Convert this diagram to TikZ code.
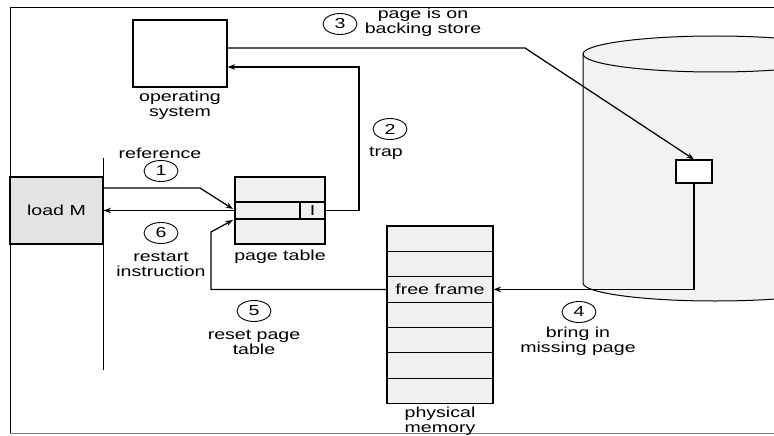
\documentclass[tikz,border=0pt]{standalone}
\usepackage{fontspec}
\setmainfont{Liberation Sans}[FakeStretch=1.35]
\usetikzlibrary{shapes.geometric,arrows.meta}
\begin{document}
\begin{tikzpicture}[x=1pt,y=-1pt,
  every node/.style={font=\fontsize{14.5}{15}\selectfont},
  box/.style={draw,line width=1.1pt,inner sep=0},
  arr/.style={line width=1.25pt,-{Stealth[length=7.5pt,width=5.5pt]}},
  num/.style={draw,ellipse,minimum width=34pt,minimum height=21pt,inner sep=0,line width=0.9pt},
  lbl/.style={align=center,inner sep=0},
  shadebox/.style={box,fill=gray!12}]
\useasboundingbox (0,0) rectangle (774,436);
% frame
\draw[line width=0.8pt] (774,7) -- (10,7) -- (10,433);
\draw[line width=0.8pt,gray] (10,433) -- (774,433);
% backing store cylinder
\begin{scope}
\clip (0,0) rectangle (774,436);
\fill[gray!10] (583,54) -- (583,283) arc[start angle=180,end angle=0,x radius=132,y radius=18] -- (847,54) -- cycle;
\fill[gray!10] (715,54) ellipse[x radius=132,y radius=18];
\draw[line width=1pt] (583,54) -- (583,283) arc[start angle=180,end angle=0,x radius=132,y radius=18] -- (847,54);
\draw[line width=1pt] (715,54) ellipse[x radius=132,y radius=18];
\end{scope}
\node[box,fill=white,minimum width=36pt,minimum height=23pt] (blk) at (694,171.5) {};
% operating system
\node[box,line width=1.3pt,minimum width=94pt,minimum height=67pt] (os) at (180,53.5) {};
\node[lbl] (oslbl) at (180,105) {operating\\system};
% program
\node[box,fill=gray!22,minimum width=93pt,minimum height=67pt] (loadm) at (56.5,210.5) {load M};
\coordinate (progtop) at (103,158);
\coordinate (progbot) at (103,370);
\draw[line width=1pt] (progtop) -- (progbot);
% page table
\node[shadebox,minimum width=90pt,minimum height=25pt] (pttop) at (280,189.5) {};
\node[shadebox,minimum width=65pt,minimum height=17pt] (ptrow) at (267.5,210.5) {};
\node[shadebox,minimum width=25pt,minimum height=17pt] (pti) at (312.5,210.5) {I};
\node[shadebox,minimum width=90pt,minimum height=25pt] (ptbot) at (280,231.5) {};
\node (ptlbl) at (280,257) {page table};
% physical memory
\foreach \i/\t in {0/,1/,2/free frame,3/,4/,5/,6/}
  \node[shadebox,minimum width=106pt,minimum height=25.36pt] (m\i) at (440,{238.68+25.36*\i}) {\t};
\node[lbl] (pmlbl) at (440,421.5) {physical\\memory};
% connectors
\coordinate (a1a) at (200,188);
\coordinate (a1b) at (233,209);
\draw[arr] (loadm.east |- a1a) -- (a1a) -- (a1b);
\draw[arr] (ptrow.west) -- (loadm.east);
\coordinate (trapc) at (359,67);
\draw[arr] (pti.east) -| (trapc) -- (os.east |- trapc);
\coordinate (c3a) at (525,48);
\draw[arr] (os.east |- c3a) -- (c3a) -- (blk.north);
\draw[arr] (blk.south) |- (m2.east);
\coordinate (c5a) at (211,232);
\coordinate (c5b) at (233,220);
\draw[arr] (m2.west) -| (c5a) -- (c5b);
% step labels
\node[num] (n3) at (340,24) {3};
\node[lbl] (t3) at (423,22) {page is on\\backing store};
\node[num] (n2) at (390,129) {2};
\node (t2) at (386,153) {trap};
\node (t1) at (160,153) {reference};
\node[num] (n1) at (161,171) {1};
\node[num] (n6) at (161,233) {6};
\node[lbl] (t6) at (161,264) {restart\\instruction};
\node[num] (n5) at (254,311) {5};
\node[lbl] (t5) at (254,342) {reset page\\table};
\node[num] (n4) at (579,312) {4};
\node[lbl] (t4) at (578,341) {bring in\\missing page};
\end{tikzpicture}
\end{document}
